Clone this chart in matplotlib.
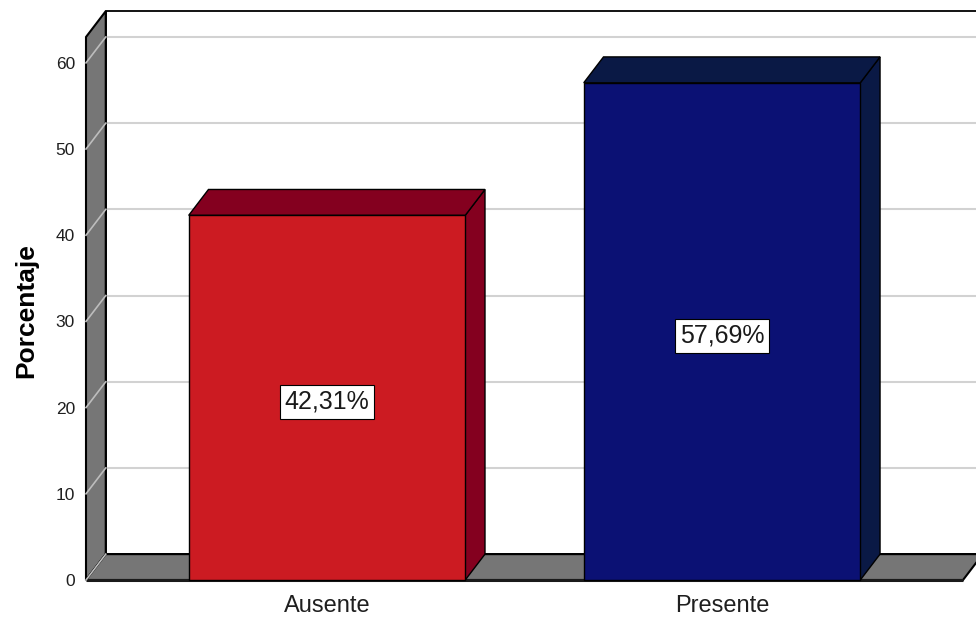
import matplotlib
matplotlib.use('Agg')
import matplotlib.pyplot as plt
from matplotlib.patches import Polygon, Rectangle

# data
categories = ['Ausente', 'Presente']
percentages = [42.31, 57.69]
yticks = [0, 10, 20, 30, 40, 50, 60]

front_colors = ['#CC1B22', '#0B1174']
shade_colors = ['#84001F', '#0A1945']
wall_color = '#767676'
grid_color = '#D2D2D2'

font = ['Liberation Sans', 'DejaVu Sans']

# 3d depth offset in data units
DX, DY = 0.05, 3.0
bar_w = 0.70
xmin, xmax = -0.61, 1.61
ymax = 63

fig = plt.figure(figsize=(9.76, 6.21), dpi=100)
fig.patch.set_facecolor('white')
ax = fig.add_axes([86/976, 41/621, 877/976, 543/621])
ax.set_xlim(xmin, xmax)
ax.set_ylim(0, ymax)
for s in ax.spines.values():
    s.set_visible(False)
ax.patch.set_visible(False)

# back wall
ax.add_patch(Rectangle((xmin+DX, DY), (xmax-xmin)+0.2, ymax, facecolor='white',
                       edgecolor='black', lw=1.3, clip_on=False, zorder=1))
# gridlines on back wall
for v in yticks:
    if v > 0:
        ax.plot([xmin+DX, xmax+DX+0.2], [v+DY, v+DY], color=grid_color, lw=1.5, clip_on=False, zorder=2)
# left wall
ax.add_patch(Polygon([(xmin, 0), (xmin, ymax), (xmin+DX, ymax+DY), (xmin+DX, DY)],
                     closed=True, facecolor=wall_color, edgecolor='black', lw=1.5, clip_on=False, zorder=3))
# floor
ax.add_patch(Polygon([(xmin, 0), (xmax, 0), (xmax+DX, DY), (xmin+DX, DY)],
                     closed=True, facecolor=wall_color, edgecolor='black', lw=1.5, clip_on=False, zorder=3))
ax.plot([xmin, xmax], [0, 0], color='#1a1a1a', lw=2.2, clip_on=False, zorder=3.5, solid_capstyle='butt')
# gridlines on left wall
for v in yticks:
    ax.plot([xmin, xmin+DX], [v, v+DY], color='#BDBDBD', lw=1.2, clip_on=False, zorder=4)

# bars
for i, (cat, v) in enumerate(zip(categories, percentages)):
    x0, x1 = i - bar_w/2, i + bar_w/2
    ax.add_patch(Polygon([(x1, 0), (x1+DX, DY), (x1+DX, v+DY), (x1, v)], closed=True,
                         facecolor=shade_colors[i], edgecolor='black', lw=1, zorder=5, clip_on=False))
    ax.add_patch(Polygon([(x0, v), (x1, v), (x1+DX, v+DY), (x0+DX, v+DY)], closed=True,
                         facecolor=shade_colors[i], edgecolor='black', lw=1, zorder=5, clip_on=False))
    ax.add_patch(Rectangle((x0, 0), bar_w, v, facecolor=front_colors[i], edgecolor='black',
                           lw=1, zorder=6, clip_on=False))
    label = f'{v:.2f}'.replace('.', ',') + '%'
    ax.text(i, v/2 - 0.5, label, ha='center', va='center', fontsize=18, family=font,
            color='#1a1a1a', zorder=7,
            bbox=dict(boxstyle='square,pad=0.2', facecolor='white', edgecolor='black', lw=0.8))

ax.set_yticks(yticks)
ax.set_yticklabels([str(t) for t in yticks], family=font, fontsize=12.5, color='#1f1f1f')
ax.set_xticks(range(len(categories)))
ax.set_xticklabels(categories, family=font, fontsize=17, color='#1f1f1f')
ax.tick_params(axis='y', length=0, pad=8)
ax.tick_params(axis='x', length=0, pad=11)

ax.set_ylabel('Porcentaje', fontsize=19, fontweight='bold', family=font)
ax.yaxis.set_label_coords(-0.054, 0.497)

fig.savefig('out.png', dpi=100)
